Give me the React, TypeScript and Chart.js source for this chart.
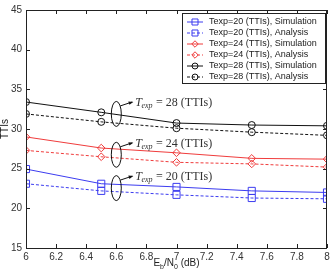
import React, { useEffect, useRef } from "react";
import Chart from "chart.js/auto";

const xValues = [6, 6.5, 7, 7.5, 8];
const sim20 = [24.95, 23.1, 22.7, 22.2, 22.0];
const ana20 = [23.1, 22.2, 21.7, 21.3, 21.2];
const sim24 = [29.0, 27.6, 27.0, 26.3, 26.2];
const ana24 = [27.3, 26.5, 25.8, 25.6, 25.2];
const sim28 = [33.4, 32.1, 30.75, 30.5, 30.4];
const ana28 = [31.9, 30.9, 30.1, 29.6, 29.2];

const seriesLabels = [
  "Texp=20 (TTIs), Simulation",
  "Texp=20 (TTIs), Analysis",
  "Texp=24 (TTIs), Simulation",
  "Texp=24 (TTIs), Analysis",
  "Texp=28 (TTIs), Simulation",
  "Texp=28 (TTIs), Analysis",
];

// annotation anchors: x, ellipse center y, label value
const annotations = [
  { x: 6.6, y: 31.9, text: "28" },
  { x: 6.6, y: 26.75, text: "24" },
  { x: 6.6, y: 22.55, text: "20" },
];

const BLUE = "#3c3cf0";
const RED = "#f03c3c";
const BLACK = "#111111";

const pts = (arr: number[]) => arr.map((v, i) => ({ x: xValues[i], y: v }));

const styles = [
  { color: BLUE, dash: [] as number[], point: "rect", r: 5 },
  { color: BLUE, dash: [3, 2], point: "rect", r: 5 },
  { color: RED, dash: [], point: "rectRot", r: 3.8 },
  { color: RED, dash: [3, 2], point: "rectRot", r: 3.8 },
  { color: BLACK, dash: [], point: "circle", r: 3.5 },
  { color: BLACK, dash: [3, 2], point: "circle", r: 3.5 },
];

function drawMarker(ctx: CanvasRenderingContext2D, style: string, x: number, y: number, r: number) {
  ctx.beginPath();
  if (style === "rect") {
    const s = Math.SQRT1_2 * r;
    ctx.rect(x - s, y - s, 2 * s, 2 * s);
  } else if (style === "rectRot") {
    ctx.moveTo(x - r, y);
    ctx.lineTo(x, y - r);
    ctx.lineTo(x + r, y);
    ctx.lineTo(x, y + r);
    ctx.closePath();
  } else {
    ctx.arc(x, y, r, 0, Math.PI * 2);
  }
  ctx.stroke();
}

const framePlugin = {
  id: "frame",
  beforeDraw(chart: any) {
    const { ctx, width, height } = chart;
    ctx.save();
    ctx.fillStyle = "#ffffff";
    ctx.fillRect(0, 0, width, height);
    ctx.restore();
  },
  afterDraw(chart: any) {
    const { ctx, chartArea: a, scales } = chart;
    const xs = scales.x;
    const ys = scales.y;
    ctx.save();
    ctx.strokeStyle = "#222";
    ctx.lineWidth = 1;
    ctx.strokeRect(Math.round(a.left) + 0.5, Math.round(a.top) + 0.5, Math.round(a.right - a.left) - 1, Math.round(a.bottom - a.top));
    const tl = 4;
    ctx.beginPath();
    xs.ticks.forEach((t: any) => {
      const px = Math.round(xs.getPixelForValue(t.value)) + 0.5;
      ctx.moveTo(px, a.bottom);
      ctx.lineTo(px, a.bottom - tl);
      ctx.moveTo(px, a.top);
      ctx.lineTo(px, a.top + tl);
    });
    ys.ticks.forEach((t: any) => {
      const py = Math.round(ys.getPixelForValue(t.value)) + 0.5;
      ctx.moveTo(a.left, py);
      ctx.lineTo(a.left + tl, py);
      ctx.moveTo(a.right, py);
      ctx.lineTo(a.right - tl, py);
    });
    ctx.stroke();

    // annotations
    annotations.forEach((an) => {
      const cx = xs.getPixelForValue(an.x);
      const cy = ys.getPixelForValue(an.y);
      const rx = 5;
      const ry = 12.5;
      ctx.strokeStyle = "#111";
      ctx.lineWidth = 1;
      ctx.beginPath();
      ctx.ellipse(cx, cy, rx, ry, 0, 0, Math.PI * 2);
      ctx.stroke();
      const sx = cx + 4;
      const sy = cy - 8;
      const ex = cx + 16;
      const ey = cy - 12;
      ctx.beginPath();
      ctx.moveTo(sx, sy);
      ctx.lineTo(ex, ey);
      ctx.stroke();
      const ang = Math.atan2(ey - sy, ex - sx);
      ctx.fillStyle = "#111";
      ctx.beginPath();
      ctx.moveTo(ex + 1, ey);
      ctx.lineTo(ex - 4 * Math.cos(ang - 0.45), ey - 4 * Math.sin(ang - 0.45));
      ctx.lineTo(ex - 4 * Math.cos(ang + 0.45), ey - 4 * Math.sin(ang + 0.45));
      ctx.closePath();
      ctx.fill();
      // text
      const tx = ex + 3;
      const ty = ey + 1;
      ctx.fillStyle = "#333";
      ctx.textBaseline = "middle";
      ctx.textAlign = "left";
      ctx.font = "italic 12px 'Liberation Serif'";
      ctx.fillText("T", tx, ty);
      let w = ctx.measureText("T").width;
      ctx.font = "italic 8px 'Liberation Serif'";
      ctx.fillText("exp", tx + w - 0.5, ty + 3);
      w += ctx.measureText("exp").width;
      ctx.font = "12px 'Liberation Serif'";
      ctx.fillText(" = " + an.text + " (TTIs)", tx + w, ty);
    });

    // legend
    const lx = 182, ly = 13, lw = 143, lh = 70;
    ctx.fillStyle = "#fff";
    ctx.fillRect(lx, ly, lw, lh);
    ctx.strokeStyle = "#222";
    ctx.lineWidth = 1;
    ctx.strokeRect(lx + 0.5, ly + 0.5, lw, lh);
    ctx.font = "9px 'Liberation Sans'";
    ctx.textBaseline = "middle";
    ctx.textAlign = "left";
    seriesLabels.forEach((lab, i) => {
      const st = styles[i];
      const y = ly + 9 + i * 11;
      ctx.strokeStyle = st.color;
      ctx.setLineDash(st.dash);
      ctx.beginPath();
      ctx.moveTo(lx + 5, y);
      ctx.lineTo(lx + 21, y);
      ctx.stroke();
      ctx.setLineDash([]);
      drawMarker(ctx, st.point, lx + 13, y, st.r * 0.85);
      ctx.fillStyle = "#222";
      ctx.fillText(lab, lx + 27, y);
    });

    // axis titles
    ctx.fillStyle = "#222";
    ctx.textBaseline = "alphabetic";
    const mx = (a.left + a.right) / 2;
    const by = 266;
    const parts: [string, number, number][] = [
      ["E", 10, 0],
      ["b", 7, 3],
      ["/N", 10, 0],
      ["0", 7, 3],
      [" (dB)", 10, 0],
    ];
    let total = 0;
    parts.forEach(([s, f]) => {
      ctx.font = f + "px 'Liberation Sans'";
      total += ctx.measureText(s).width;
    });
    let px = mx - total / 2;
    parts.forEach(([s, f, dy]) => {
      ctx.font = f + "px 'Liberation Sans'";
      ctx.fillText(s, px, by + dy);
      px += ctx.measureText(s).width;
    });
    ctx.save();
    ctx.translate(5, (a.top + a.bottom) / 2);
    ctx.rotate(-Math.PI / 2);
    ctx.textAlign = "center";
    ctx.textBaseline = "middle";
    ctx.font = "10px 'Liberation Sans'";
    ctx.fillText("TTIs", 0, 0);
    ctx.restore();
    ctx.restore();
  },
};

export default function App() {
  const ref = useRef<HTMLCanvasElement>(null);
  useEffect(() => {
    if (!ref.current) return;
    const data = [sim20, ana20, sim24, ana24, sim28, ana28];
    const chart = new Chart(ref.current, {
      type: "line",
      data: {
        datasets: data.map((d, i) => ({
          label: seriesLabels[i],
          data: pts(d),
          borderColor: styles[i].color,
          borderWidth: 1,
          borderDash: styles[i].dash,
          pointStyle: styles[i].point as any,
          pointRadius: styles[i].r,
          pointBorderColor: styles[i].color,
          pointBackgroundColor: "rgba(0,0,0,0)",
          pointBorderWidth: 1,
          tension: 0,
          fill: false,
        })),
      },
      options: {
        responsive: false,
        animation: false,
        layout: { padding: { left: 0, top: 10, right: 4, bottom: 0 } },
        plugins: { legend: { display: false }, tooltip: { enabled: false } },
        scales: {
          x: {
            type: "linear",
            min: 6,
            max: 8,
            ticks: {
              stepSize: 0.2,
              padding: 3,
              color: "#333",
              font: { family: "'Liberation Sans'", size: 10 },
              maxRotation: 0,
              autoSkip: false,
              callback: (v: any) => String(Number(Number(v).toFixed(1))),
            },
            grid: { display: false, drawTicks: false },
            border: { display: false },
            afterFit: (s: any) => {
              s.height = 28;
            },
          },
          y: {
            min: 15,
            max: 45,
            ticks: {
              stepSize: 5,
              padding: 4,
              color: "#333",
              font: { family: "'Liberation Sans'", size: 10 },
            },
            grid: { display: false, drawTicks: false },
            border: { display: false },
            afterFit: (s: any) => {
              s.width = 26;
            },
          },
        },
      },
      plugins: [framePlugin],
    });
    return () => chart.destroy();
  }, []);
  return (
    <div style={{ position: "absolute", left: 0, top: 0, width: 333, height: 276 }}>
      <canvas ref={ref} width={333} height={276} style={{ display: "block" }} />
    </div>
  );
}
